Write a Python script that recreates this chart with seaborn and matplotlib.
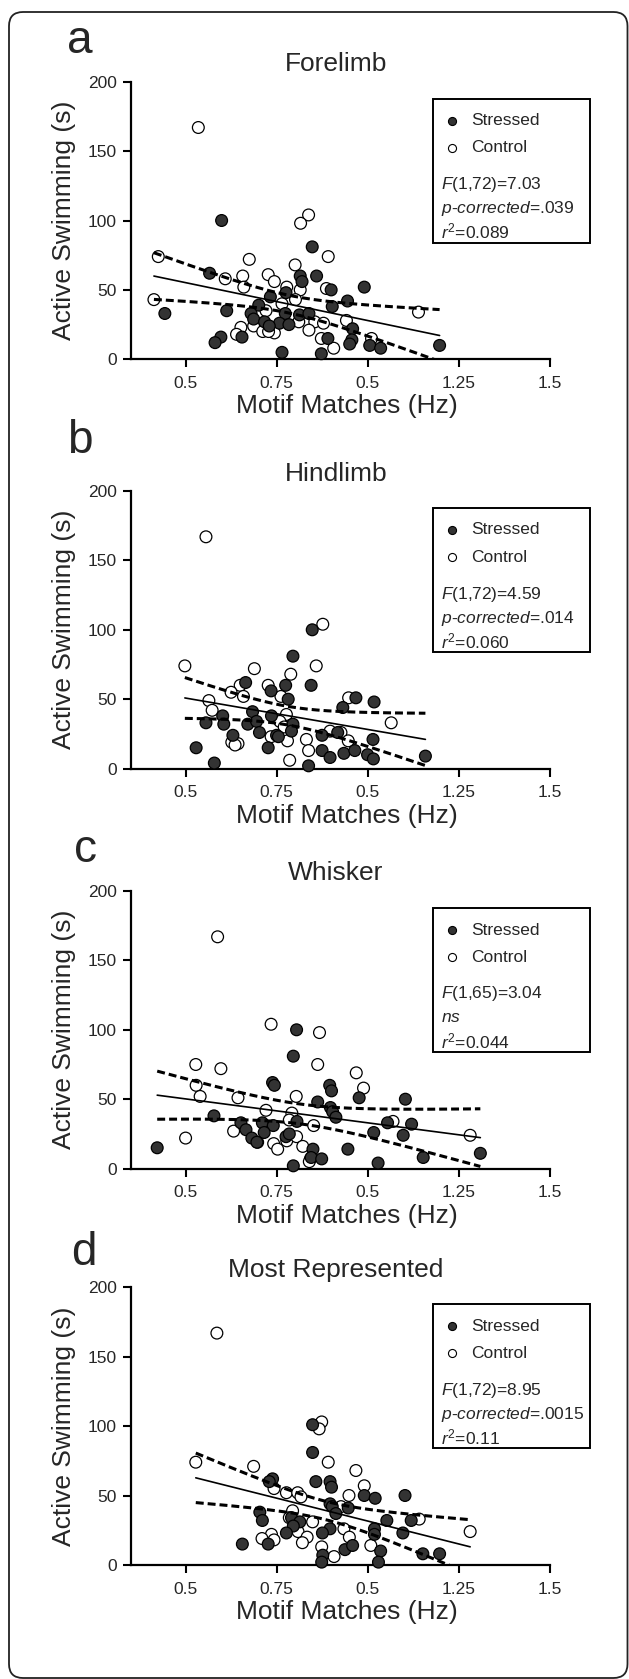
import numpy as np
import pandas as pd
import matplotlib.pyplot as plt
import seaborn as sns
from matplotlib.patches import Rectangle, FancyBboxPatch
from matplotlib.lines import Line2D
from matplotlib.transforms import IdentityTransform

# --------------
# Data
# --------------
fore_stressed_x = [0.599, 0.848, 0.566, 0.815, 0.820, 0.860, 0.900, 0.991, 0.776, 0.733, 0.945, 0.903,
                   0.443, 0.613, 0.701, 0.680, 0.687, 0.717, 0.774, 0.758, 0.784, 0.813, 0.839, 0.730,
                   0.959, 0.957, 0.891, 0.951, 1.006, 1.036, 1.198, 0.597, 0.581, 0.655, 0.765, 0.873]
fore_stressed_y = [100, 81, 62, 60, 56, 60, 50, 52, 48, 45, 42, 38,
                   33, 35, 39, 33, 29, 27, 33, 26, 25, 32, 33, 24,
                   22, 14, 15, 11, 10, 8, 10, 16, 12, 16, 5, 4]
fore_control_x = [0.425, 0.413, 0.838, 0.816, 0.892, 0.675, 0.801, 0.609, 0.657, 0.660, 0.727, 0.744,
                  0.778, 0.815, 0.887, 0.802, 0.765, 0.721, 1.140, 0.855, 0.879, 0.942, 0.811, 0.652,
                  0.687, 0.712, 0.744, 0.640, 0.839, 0.873, 1.011, 0.907, 0.535, 0.728]
fore_control_y = [74, 43, 104, 98, 74, 72, 68, 58, 60, 52, 61, 56,
                  52, 50, 51, 43, 40, 35, 34, 27, 26, 28, 27, 23,
                  24, 20, 19, 18, 21, 15, 15, 8, 167, 20]

hind_stressed_x = [0.848, 0.795, 0.845, 0.665, 0.775, 0.735, 0.782, 0.968, 1.018, 0.932, 0.684, 0.602,
                   0.556, 0.605, 0.671, 0.695, 0.736, 0.795, 0.791, 0.703, 0.630, 0.750, 0.755, 0.875,
                   0.918, 1.015, 0.529, 0.727, 0.875, 0.897, 0.935, 0.965, 1.000, 1.016, 1.159, 0.579, 0.838]
hind_stressed_y = [100, 81, 60, 62, 60, 56, 50, 51, 48, 44, 41, 38,
                   33, 32, 32, 34, 38, 32, 27, 26, 24, 24, 23, 24,
                   26, 21, 15, 15, 13, 8, 11, 13, 10, 7, 9, 4, 2]
hind_control_x = [0.498, 0.877, 0.689, 0.789, 0.859, 0.650, 0.625, 0.659, 0.727, 0.762, 0.564, 0.573,
                  0.948, 1.065, 0.777, 0.759, 0.771, 0.780, 0.735, 0.627, 0.644, 0.636, 0.832, 0.838,
                  0.786, 0.897, 0.927, 0.947, 0.556]
hind_control_y = [74, 104, 72, 68, 74, 60, 55, 52, 60, 52, 49, 42,
                  51, 33, 39, 34, 30, 20, 23, 19, 18, 17, 21, 13,
                  6, 27, 26, 20, 167]

whisk_stressed_x = [0.805, 0.796, 0.739, 0.744, 0.896, 0.901, 0.863, 0.977, 1.104, 0.898, 0.904, 0.913,
                    0.578, 0.652, 0.711, 0.741, 0.806, 0.666, 0.716, 0.682, 0.696, 0.776, 0.785, 1.055,
                    1.121, 1.017, 1.098, 0.422, 0.850, 0.845, 0.874, 0.946, 1.153, 1.310, 0.796, 1.029]
whisk_stressed_y = [100, 81, 62, 60, 60, 56, 48, 51, 50, 44, 41, 37,
                    38, 33, 33, 31, 34, 28, 26, 22, 19, 23, 25, 33,
                    32, 26, 24, 15, 14, 8, 7, 14, 8, 11, 2, 4]
whisk_control_x = [0.735, 0.868, 0.528, 0.597, 0.863, 0.969, 0.989, 0.529, 0.540, 0.644, 0.804, 0.721,
                   0.792, 0.785, 0.852, 1.070, 1.282, 0.632, 0.500, 0.698, 0.742, 0.753, 0.778, 0.805,
                   0.822, 0.843, 0.840, 0.588]
whisk_control_y = [104, 98, 75, 72, 75, 69, 58, 60, 52, 51, 52, 42,
                   40, 35, 31, 34, 24, 27, 22, 19, 18, 14, 20, 23,
                   16, 7, 5, 167]

most_stressed_x = [0.849, 0.849, 0.858, 0.739, 0.730, 0.897, 0.901, 0.991, 1.021, 1.103, 0.897, 0.903,
                   0.947, 0.913, 0.704, 0.711, 0.791, 0.814, 0.796, 0.897, 0.876, 0.777, 1.053, 1.120,
                   1.019, 1.019, 1.097, 0.656, 0.727, 0.938, 0.959, 0.877, 1.036, 1.152, 1.198, 0.874, 1.030]
most_stressed_y = [101, 81, 60, 62, 60, 60, 56, 50, 48, 50, 44, 42,
                   41, 37, 38, 32, 34, 31, 28, 26, 23, 23, 32, 32,
                   26, 22, 23, 15, 15, 11, 14, 7, 10, 8, 8, 2, 2]
most_control_x = [0.874, 0.867, 0.528, 0.687, 0.892, 0.968, 0.991, 0.743, 0.777, 0.808, 0.817, 0.949,
                  0.927, 0.794, 0.785, 0.849, 0.935, 1.142, 1.282, 0.809, 0.736, 0.834, 0.710, 0.743,
                  0.821, 0.950, 0.874, 1.009, 0.908, 0.586]
most_control_y = [103, 98, 74, 71, 74, 68, 57, 55, 52, 52, 49, 50,
                  42, 39, 34, 31, 26, 33, 24, 24, 22, 20, 19, 18,
                  16, 20, 13, 14, 6, 167]

panel_letters = ['a', 'b', 'c', 'd']
panel_titles = ['Forelimb', 'Hindlimb', 'Whisker', 'Most Represented']
panel_stats = [
    [r'$\it{F}$(1,72)=7.03', r'$\it{p}$-$\it{corrected}$=.039', r'$\it{r}^{2}$=0.089'],
    [r'$\it{F}$(1,72)=4.59', r'$\it{p}$-$\it{corrected}$=.014', r'$\it{r}^{2}$=0.060'],
    [r'$\it{F}$(1,65)=3.04', r'$\it{ns}$', r'$\it{r}^{2}$=0.044'],
    [r'$\it{F}$(1,72)=8.95', r'$\it{p}$-$\it{corrected}$=.0015', r'$\it{r}^{2}$=0.11'],
]
panel_data = [
    (fore_stressed_x, fore_stressed_y, fore_control_x, fore_control_y),
    (hind_stressed_x, hind_stressed_y, hind_control_x, hind_control_y),
    (whisk_stressed_x, whisk_stressed_y, whisk_control_x, whisk_control_y),
    (most_stressed_x, most_stressed_y, most_control_x, most_control_y),
]
x_ticks = [0.5, 0.75, 1.0, 1.25, 1.5]
x_tick_labels = ['0.5', '0.75', '0.5', '1.25', '1.5']
y_ticks = [0, 50, 100, 150, 200]

# --------------
# Style
# --------------
sns.set_style('ticks')
plt.rcParams['font.family'] = ['Liberation Sans', 'DejaVu Sans']
plt.rcParams['mathtext.fontset'] = 'custom'
plt.rcParams['mathtext.rm'] = 'Liberation Sans'
plt.rcParams['mathtext.it'] = 'Liberation Sans:italic'
plt.rcParams['mathtext.bf'] = 'Liberation Sans:bold'

W, H = 629, 1679
fig = plt.figure(figsize=(W / 100, H / 100), dpi=100)
fig.patch.set_facecolor('white')

# outer rounded frame
frame = FancyBboxPatch((9, H - 1678), 618.5, 1666, boxstyle='round,pad=0,rounding_size=14',
                       transform=IdentityTransform(), fill=False, edgecolor='#222222', linewidth=1.3)
fig.add_artist(frame)


def fx(x):
    return x / W


def fy(y):
    return 1 - y / H


ax_left, ax_width, ax_height = 131.0, 418.5, 277.6
ax_tops = [81.7, 491.0, 891.0, 1287.3]
letter_pos = [(80, 53), (80, 453), (86, 861.7), (84, 1265)]
T95 = 1.995

for i in range(4):
    sx, sy, cx, cy = panel_data[i]
    df = pd.concat([
        pd.DataFrame({'hz': cx, 'swim': cy, 'group': 'Control'}),
        pd.DataFrame({'hz': sx, 'swim': sy, 'group': 'Stressed'}),
    ], ignore_index=True)

    top = ax_tops[i]
    ax = fig.add_axes([fx(ax_left), fy(top + ax_height), ax_width / W, ax_height / H])

    sns.scatterplot(data=df, x='hz', y='swim', hue='group', hue_order=['Control', 'Stressed'],
                    palette={'Stressed': '#333333', 'Control': 'white'}, edgecolor='black',
                    linewidth=0.9, s=72, legend=False, ax=ax, zorder=3, clip_on=False)

    # linear regression with 95% confidence band of the mean
    x = df['hz'].to_numpy()
    y = df['swim'].to_numpy()
    n = len(x)
    slope, icpt = np.polyfit(x, y, 1)
    xs = np.linspace(x.min(), x.max(), 200)
    yhat = icpt + slope * xs
    resid = y - (icpt + slope * x)
    s_err = np.sqrt(np.sum(resid ** 2) / (n - 2))
    sxx = np.sum((x - x.mean()) ** 2)
    band = T95 * s_err * np.sqrt(1.0 / n + (xs - x.mean()) ** 2 / sxx)
    ax.plot(xs, yhat, color='black', lw=1.2, zorder=4)
    ax.plot(xs, yhat + band, color='black', lw=2.2, ls=(0, (2.6, 1.3)), zorder=4)
    ax.plot(xs, yhat - band, color='black', lw=2.2, ls=(0, (2.6, 1.3)), zorder=4)

    ax.set_xlim(0.35, 1.5)
    ax.set_ylim(0, 200)
    ax.set_xticks(x_ticks)
    ax.set_xticklabels(x_tick_labels)
    ax.set_yticks(y_ticks)
    ax.spines[['top', 'right']].set_visible(False)
    for side in ['left', 'bottom']:
        ax.spines[side].set_linewidth(1.6)
        ax.spines[side].set_color('black')
    ax.tick_params(direction='out', length=6, width=1.5, labelsize=12.5, pad=4, color='black')
    ax.tick_params(axis='x', pad=6)

    ax.set_xlabel('Motif Matches (Hz)', fontsize=19)
    ax.xaxis.label.set_va('baseline')
    ax.xaxis.set_label_coords((347 - ax_left) / ax_width, -54 / ax_height)
    ax.set_ylabel('Active Swimming (s)', fontsize=19)
    ax.yaxis.label.set_va('center')
    ax.yaxis.set_label_coords((64 - ax_left) / ax_width, 0.5)

    ax.text((336 - ax_left) / ax_width, 1 + 10.5 / ax_height, panel_titles[i], transform=ax.transAxes,
            ha='center', va='baseline', fontsize=19)

    lx, ly = letter_pos[i]
    fig.text(fx(lx), fy(ly), panel_letters[i], ha='center', va='baseline', fontsize=33)

    # legend / statistics box
    btop = top + 17
    fig.add_artist(Rectangle((fx(433), fy(btop + 144)), 157 / W, 144 / H, transform=fig.transFigure,
                             fill=False, edgecolor='black', linewidth=1.4))
    fig.add_artist(Line2D([fx(452)], [fy(btop + 22)], marker='o', markersize=5.8, color='#333333',
                          markeredgecolor='black', markeredgewidth=0.8, linestyle='none',
                          transform=fig.transFigure))
    fig.add_artist(Line2D([fx(452)], [fy(btop + 49)], marker='o', markersize=5.8, markerfacecolor='white',
                          markeredgecolor='black', markeredgewidth=0.8, linestyle='none',
                          transform=fig.transFigure))
    fig.text(fx(471), fy(btop + 22), 'Stressed', ha='left', va='center', fontsize=12.5)
    fig.text(fx(471), fy(btop + 49), 'Control', ha='left', va='center', fontsize=12.5)
    for j, off in enumerate([86, 110, 133]):
        fig.text(fx(441), fy(btop + off), panel_stats[i][j], ha='left', va='center', fontsize=12.5)

fig.savefig('out.png', dpi=100)
plt.close(fig)
